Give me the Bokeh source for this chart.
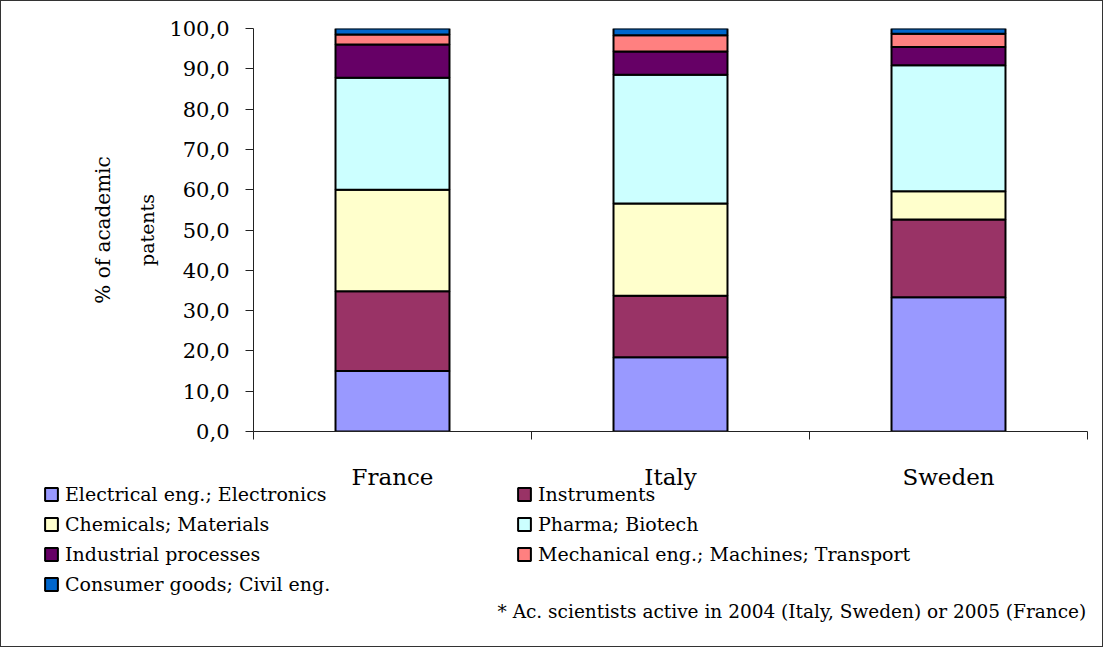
import numpy as np
from bokeh.plotting import figure
from bokeh.models import FixedTicker, Range1d, LinearAxis, Legend, LegendItem, Label, Title
from bokeh.layouts import column
from bokeh.embed import file_html
from bokeh.resources import INLINE

countries = ["France", "Italy", "Sweden"]
sectors = ["Electrical eng.; Electronics", "Instruments", "Chemicals; Materials",
           "Pharma; Biotech", "Industrial processes",
           "Mechanical eng.; Machines; Transport", "Consumer goods; Civil eng."]
electrical = [15.0, 18.4, 33.3]
instruments = [19.8, 15.3, 19.3]
chemicals = [25.2, 22.9, 7.0]
pharma = [27.8, 31.9, 31.3]
industrial = [8.2, 5.8, 4.5]
mechanical = [2.5, 4.0, 3.3]
consumer = [1.5, 1.7, 1.3]
colors = ["#9999FF", "#993366", "#FFFFCC", "#CCFFFF", "#660066", "#FF8080", "#0066CC"]
y_ticks = [0, 10, 20, 30, 40, 50, 60, 70, 80, 90, 100]
footnote = "* Ac. scientists active in 2004 (Italy, Sweden) or 2005 (France)"
ylabel_lines = ["% of academic", "patents"]

FONT = "DejaVu Serif"
W = 1101
H1 = 500
FRAME_TOP, FRAME_BOTTOM = 27, 430
Q_TOP = 482
OVERLAP = H1 - Q_TOP
H2 = 163

x = list(np.arange(len(countries)) + 0.5)
data = {"x": x}
keys = ["s%d" % i for i in range(len(sectors))]
for k, vals in zip(keys, [electrical, instruments, chemicals, pharma, industrial, mechanical, consumer]):
    data[k] = vals

# ---------------- main chart ----------------
p = figure(width=W, height=H1, output_backend="svg", toolbar_location=None,
           x_range=Range1d(0, len(countries)), y_range=Range1d(0, 100),
           min_border_left=252, min_border_right=W - 1086, min_border_top=FRAME_TOP,
           min_border_bottom=H1 - FRAME_BOTTOM,
           x_axis_location=None, y_axis_location=None)
p.frame_align = False
p.outline_line_color = None
p.background_fill_color = "white"
p.border_fill_color = "white"

rs = p.vbar_stack(keys, x="x", width=0.41, source=data, fill_color=colors,
                  line_color="black", line_width=2)

yax = LinearAxis(ticker=FixedTicker(ticks=y_ticks, minor_ticks=[]),
                 major_label_overrides={t: "%d,0" % t for t in y_ticks})
yax.major_tick_in = 0
yax.major_tick_out = 8
yax.major_label_standoff = 16
yax.major_label_text_font = FONT
yax.major_label_text_font_size = "21px"
yax.major_label_text_color = "black"
yax.axis_line_color = "#222222"
yax.major_tick_line_color = "#222222"
p.add_layout(yax, "left")

# two-line y axis title, inner line first
p.add_layout(Title(text=ylabel_lines[1], align="center", text_font=FONT,
                   text_font_size="19px", text_font_style="normal",
                   text_color="black", standoff=17), "left")
p.add_layout(Title(text=ylabel_lines[0], align="center", text_font=FONT,
                   text_font_size="20px", text_font_style="normal",
                   text_color="black", standoff=21), "left")

xax = LinearAxis(ticker=FixedTicker(ticks=x, minor_ticks=list(range(len(countries) + 1))),
                 major_label_overrides={xx: c for xx, c in zip(x, countries)})
xax.major_tick_in = 0
xax.major_tick_out = 0
xax.major_tick_line_color = None
xax.minor_tick_in = 0
xax.minor_tick_out = 8
xax.minor_tick_line_color = "#222222"
xax.axis_line_color = "#222222"
xax.major_label_standoff = 24
xax.major_label_text_font = FONT
xax.major_label_text_font_size = "23px"
xax.major_label_text_color = "black"
p.add_layout(xax, "below")

p.xgrid.visible = False
p.ygrid.ticker = FixedTicker(ticks=[100])
p.ygrid.grid_line_color = "#808080"
p.ygrid.grid_line_width = 1.5

# ---------------- legend / note area ----------------
q = figure(width=W, height=H2, output_backend="svg", toolbar_location=None,
           x_range=Range1d(0, W), y_range=Range1d(0, H2),
           min_border=0, x_axis_location=None, y_axis_location=None)
q.frame_align = False
q.margin = (-OVERLAP, 0, 0, 0)
q.outline_line_color = None
q.grid.visible = False
q.background_fill_alpha = 0
q.border_fill_alpha = 0

# hidden copies of the stacks, only used as legend glyph sources
proxies = q.vbar_stack(keys, x="x", width=0.41, source=data, fill_color=colors,
                       line_color="black", line_width=2, visible=False)

left_idx = [0, 2, 4, 6]
right_idx = [1, 3, 5]
ROW_H, GAP = 22, 8
for idx, xloc in [(left_idx, 42), (right_idx, 515)]:
    n = len(idx)
    hgt = n * ROW_H + (n - 1) * GAP
    lg = Legend(items=[LegendItem(label=sectors[i], renderers=[proxies[i]]) for i in idx],
                location=(xloc, H2 - hgt), orientation="vertical")
    lg.glyph_width = 16
    lg.glyph_height = 16
    lg.label_height = ROW_H
    lg.spacing = GAP
    lg.padding = 0
    lg.margin = 0
    lg.label_standoff = 6
    lg.border_line_color = None
    lg.background_fill_alpha = 0
    lg.inactive_fill_alpha = 0
    lg.click_policy = "none"
    lg.label_text_font = FONT
    lg.label_text_font_size = "19px"
    lg.label_text_color = "black"
    q.add_layout(lg, "center")

q.add_layout(Label(x=496, y=H2 - (610 - Q_TOP), x_units="screen", y_units="screen",
                   text=footnote, text_align="left", text_baseline="middle",
                   text_font=FONT, text_font_size="18.5px", text_color="black"))

layout = column(p, q, spacing=0, styles={"border": "1px solid #333333"})
open("out.html", "w").write(file_html(layout, INLINE))
